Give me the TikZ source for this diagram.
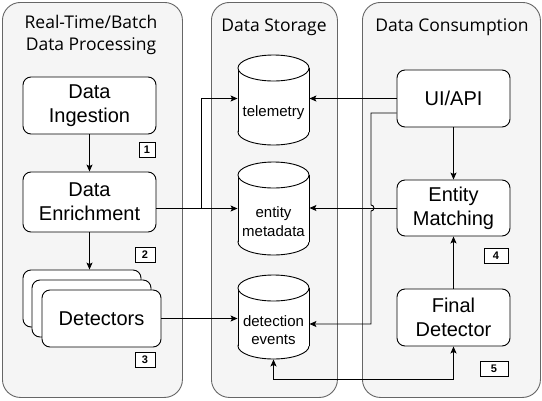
\documentclass[tikz,border=0pt]{standalone}
\usepackage{fontspec}
\setmainfont{Liberation Sans}
\newfontfamily\titlefont{Open Sans}
\usetikzlibrary{arrows.meta}
\newcommand\mycyl[5]{%
 \draw[fill=white] ({#2},{#4-13}) ellipse [x radius=35.5, y radius=13];
 \fill[white] ({#2-35.5},{#3+13}) rectangle ({#2+35.5},{#4-13});
 \draw ({#2-35.5},{#3+13}) -- ({#2-35.5},{#4-13}) ({#2+35.5},{#3+13}) -- ({#2+35.5},{#4-13});
 \draw[fill=white] ({#2},{#3+13}) ellipse [x radius=35.5, y radius=13];
 \node[inner sep=0, minimum width=71, minimum height={#4-#3}] (#1) at ({#2},{(#3+#4)/2}) {};
 \node[align=center, font=\fontsize{15}{18.5}\selectfont] at ({#2},{(#3+26+#4)/2}) {#5};
}
\begin{document}
\begin{tikzpicture}[x=1pt,y=-1pt,line width=0.9pt,
  panel/.style={draw=black!60, fill=black!4, rounded corners=18pt, minimum width=#1, minimum height=395, anchor=north west, inner sep=0},
  box/.style={draw, fill=white, rounded corners=8pt, font=\fontsize{20}{24}\selectfont, align=center, inner sep=0, minimum width=113, minimum height=57},
  badge/.style={draw, fill=white, font=\bfseries\fontsize{11}{11}\selectfont, inner sep=0, minimum height=15},
  title/.style={font=\titlefont\fontsize{17.5}{22}\selectfont, align=center},
  arr/.style={-{Stealth[length=7pt,width=6pt,inset=1.5pt]}},
  arrb/.style={{Stealth[length=7pt,width=6pt,inset=1.5pt]}-{Stealth[length=7pt,width=6pt,inset=1.5pt]}}]
\useasboundingbox (0,0) rectangle (542,400);
% panels
\node[panel=180] (p1) at (2,2) {};
\node[panel=126] (p2) at (211,2) {};
\node[panel=178] (p3) at (362,2) {};
\node[title] (t1) at (91,35) {Real-Time/Batch\\Data Processing};
\node[title] (t2) at (274,27) {Data Storage};
\node[title] (t3) at (452,27) {Data Consumption};
% left boxes
\node[box, minimum width=133, minimum height=57] (ing) at (89.5,105.5) {Data\\Ingestion};
\node[box, minimum width=133, minimum height=60] (enr) at (89.5,202) {Data\\Enrichment};
\node[box, minimum width=118] (dback) at (82,298.5) {};
\node[box, minimum width=119] (dmid) at (91.5,308.5) {};
\node[box, minimum width=119] (det) at (101.5,318.5) {Detectors};
\node[badge, minimum width=16] (b1) at (147,150) {1};
\node[badge, minimum width=20] (b2) at (145,254.5) {2};
\node[badge, minimum width=20] (b3) at (145,359.5) {3};
% right boxes
\node[box] (ui) at (453.5,98.5) {UI/API};
\node[box, minimum height=56] (em) at (453.5,208) {Entity\\Matching};
\node[box] (fd) at (453.5,317.5) {Final\\Detector};
\node[badge, minimum width=24] (b4) at (496,255.5) {4};
\node[badge, minimum width=28] (b5) at (494,368.5) {5};
% cylinders
\mycyl{tel}{273.5}{55}{145}{telemetry}
\mycyl{meta}{273.5}{162}{255}{entity\\metadata}
\mycyl{ev}{273.5}{275}{359}{detection\\events}
% connectors
\draw[arr] (ing) -- (enr);
\draw[arr] (enr.south) -- (enr.south |- dback.north);
\coordinate (j1) at (201,208.5);
\draw[arr] (enr.east |- meta.west) -- (meta.west);
\draw[arr] (j1) |- (tel.west |- ui.west);
\draw[arr] (det.east) -- (ev.west |- det.east);
\draw[arr] (ui.west) -- (tel.east |- ui.west);
\draw[arr] (em.west) -- (meta.east |- em.west);
\coordinate (u0) at ([yshift=-14.5pt]ui.west);
\coordinate (k) at (371,208);
\coordinate (evin) at ([yshift=-7pt]ev.east);
\draw[arr] (u0) -- (u0 -| k) -- ([yshift=3pt]k) arc[start angle=-90, end angle=90, radius=3] -- (k |- evin) -- (evin);
\coordinate (bl) at (273.5,379);
\draw[arrb] (ev.south) -- (bl) -| (fd.south);
\draw[arr] (fd.north) -- (em.south);
\draw[arr] (ui.south) -- (em.north);
\end{tikzpicture}
\end{document}
